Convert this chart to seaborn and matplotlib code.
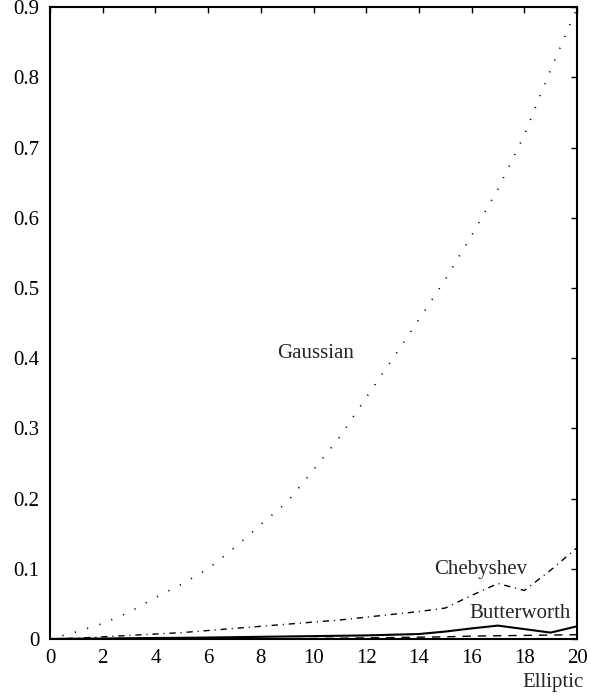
import numpy as np
import pandas as pd
import matplotlib
matplotlib.use("Agg")
import matplotlib.pyplot as plt
import seaborn as sns

x_vals = list(range(0, 21))
gaussian = [0.0, 0.010, 0.022, 0.038, 0.059, 0.078, 0.100, 0.130, 0.163, 0.195,
            0.241, 0.288, 0.344, 0.399, 0.455, 0.512, 0.575, 0.641, 0.718, 0.811, 0.899]
chebyshev = [0.0, 0.001, 0.003, 0.005, 0.007, 0.009, 0.012, 0.015, 0.018, 0.021,
             0.024, 0.027, 0.031, 0.035, 0.039, 0.044, 0.062, 0.079, 0.069, 0.098, 0.130]
butterworth = [0.0, 0.0003, 0.0006, 0.001, 0.0013, 0.0016, 0.002, 0.0025, 0.003, 0.0035,
               0.004, 0.0045, 0.005, 0.006, 0.007, 0.0105, 0.015, 0.019, 0.014, 0.009, 0.018]
elliptic = [0.0, 0.0, 0.0, 0.0, 0.0, 0.0, 0.0, 0.0, 0.0002, 0.0004,
            0.0007, 0.001, 0.0015, 0.002, 0.0025, 0.003, 0.004, 0.0045, 0.005, 0.0055, 0.006]

series_names = ["Gaussian", "Chebyshev", "Butterworth", "Elliptic"]
series_values = [gaussian, chebyshev, butterworth, elliptic]

x_ticks = list(range(0, 21, 2))
y_ticks = [0.0, 0.1, 0.2, 0.3, 0.4, 0.5, 0.6, 0.7, 0.8, 0.9]
y_tick_labels = ["0", "0.1", "0.2", "0.3", "0.4", "0.5", "0.6", "0.7", "0.8", "0.9"]

df = pd.DataFrame({
    "x": x_vals * len(series_names),
    "value": sum(series_values, []),
    "series": sum([[n] * len(x_vals) for n in series_names], []),
})

sns.set_style("white")
plt.rcParams["font.family"] = ["Liberation Serif", "DejaVu Serif"]

fig = plt.figure(figsize=(5.97, 6.96), dpi=100)
ax = fig.add_axes([0.0838, 0.082, 0.9665 - 0.0838, 0.9895 - 0.082])

styles = {
    "Gaussian": dict(ls=(0, (0.7, 7.0)), lw=1.2),
    "Chebyshev": dict(ls=(0, (4.5, 3.5, 0.8, 3.5)), lw=1.0),
    "Butterworth": dict(ls="-", lw=1.5),
    "Elliptic": dict(ls=(0, (6, 5)), lw=1.0),
}

for name in series_names:
    sub = df[df["series"] == name]
    sns.lineplot(data=sub, x="x", y="value", ax=ax, color="black",
                 linestyle=styles[name]["ls"], linewidth=styles[name]["lw"],
                 legend=False, clip_on=False)

ax.set_xlim(0, 20)
ax.set_ylim(0, 0.9)
ax.set_xticks(x_ticks)
ax.set_xticklabels([str(t) for t in x_ticks])
ax.set_yticks(y_ticks)
ax.set_yticklabels(y_tick_labels)
ax.set_xlabel("")
ax.set_ylabel("")
ax.tick_params(direction="in", length=4, width=1.0, top=True, right=True,
               labelsize=15, colors="black")
ax.tick_params(axis="x", pad=7)
ax.tick_params(axis="y", pad=7.5)
for sp in ax.spines.values():
    sp.set_visible(True)
    sp.set_color("black")
    sp.set_linewidth(1.5)

ax.text(10.06, 0.406, "Gaussian", ha="center", va="center", fontsize=15)
ax.text(16.35, 0.0996, "Chebyshev", ha="center", va="center", fontsize=15)
ax.text(17.84, 0.0367, "Butterworth", ha="center", va="center", fontsize=15)
ax.text(19.08, -0.0686, "Elliptic", ha="center", va="baseline", fontsize=15, clip_on=False)

fig.savefig("out.png", dpi=100)
